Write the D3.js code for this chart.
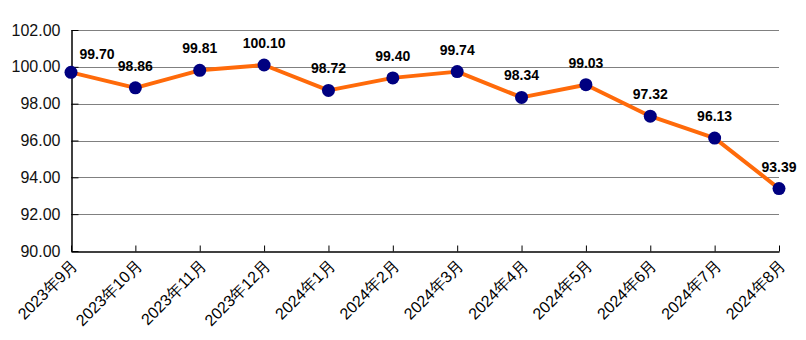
<!DOCTYPE html>
<html>
<head>
<meta charset="utf-8">
<script src="https://cdn.jsdelivr.net/npm/d3@7"></script>
<style>
  html, body { margin: 0; padding: 0; background: #fff; }
  svg { display: block; font-family: "Liberation Sans", Arial, "Noto Sans CJK SC", sans-serif; }
</style>
</head>
<body>
<svg id="chart" width="806" height="340"></svg>
<script>
// Monthly index values
const months = ["2023年9月", "2023年10月", "2023年11月", "2023年12月", "2024年1月", "2024年2月",
                "2024年3月", "2024年4月", "2024年5月", "2024年6月", "2024年7月", "2024年8月"];
const values = [99.70, 98.86, 99.81, 100.10, 98.72, 99.40, 99.74, 98.34, 99.03, 97.32, 96.13, 93.39];
const yTicks = [90, 92, 94, 96, 98, 100, 102];

const svg = d3.select("#chart");
const plot = { left: 71, right: 779, top: 30, bottom: 251 };

const x = d3.scalePoint().domain(months).range([plot.left, plot.right]);
const y = d3.scaleLinear().domain([90, 102]).range([plot.bottom, plot.top]);

// horizontal gridlines
svg.append("g").selectAll("line").data(yTicks.filter(d => d > 90)).join("line")
  .attr("x1", plot.left).attr("x2", plot.right)
  .attr("y1", d => Math.round(y(d)) + 0.5).attr("y2", d => Math.round(y(d)) + 0.5)
  .attr("stroke", "#808080").attr("stroke-width", 1);

// y axis
const yAxis = svg.append("g").attr("transform", `translate(${plot.left + 0.5},0)`)
  .call(d3.axisLeft(y).tickValues(yTicks).tickFormat(d3.format(".2f")).tickSizeInner(-7).tickSizeOuter(0).tickPadding(11));
yAxis.select(".domain").attr("stroke", "#000").attr("stroke-width", 1.5);
yAxis.selectAll(".tick line").attr("stroke", "#000");
yAxis.selectAll(".tick text").attr("font-size", 16).attr("fill", "#111");

// x axis
const xAxis = svg.append("g").attr("transform", `translate(0,${plot.bottom + 0.5})`)
  .call(d3.axisBottom(x).tickSizeInner(-6).tickSizeOuter(0).tickPadding(0));
xAxis.select(".domain").attr("stroke", "#000").attr("stroke-width", 1.5);
xAxis.selectAll(".tick line").attr("stroke", "#000");
xAxis.selectAll(".tick text")
  .attr("font-size", 16).attr("fill", "#000")
  .attr("text-anchor", "end")
  .attr("dy", null)
  .attr("transform", "translate(7,15) rotate(-45)");

// line
const line = d3.line().x((d, i) => x(months[i])).y(d => y(d));
svg.append("path").datum(values)
  .attr("d", line)
  .attr("fill", "none")
  .attr("stroke", "#ff6a0a")
  .attr("stroke-width", 4)
  .attr("stroke-linejoin", "round");

// markers
svg.append("g").selectAll("circle").data(values).join("circle")
  .attr("cx", (d, i) => x(months[i]))
  .attr("cy", d => y(d))
  .attr("r", 6.5)
  .attr("fill", "#000080");

// value labels
svg.append("g").selectAll("text").data(values).join("text")
  .attr("x", (d, i) => x(months[i]) + (i === 0 ? 26 : 0))
  .attr("y", (d, i) => y(d) - (i === 0 ? 13 : 17))
  .attr("text-anchor", "middle")
  .attr("font-size", 14)
  .attr("font-weight", "bold")
  .attr("fill", "#000")
  .text(d => d.toFixed(2));
</script>
</body>
</html>
